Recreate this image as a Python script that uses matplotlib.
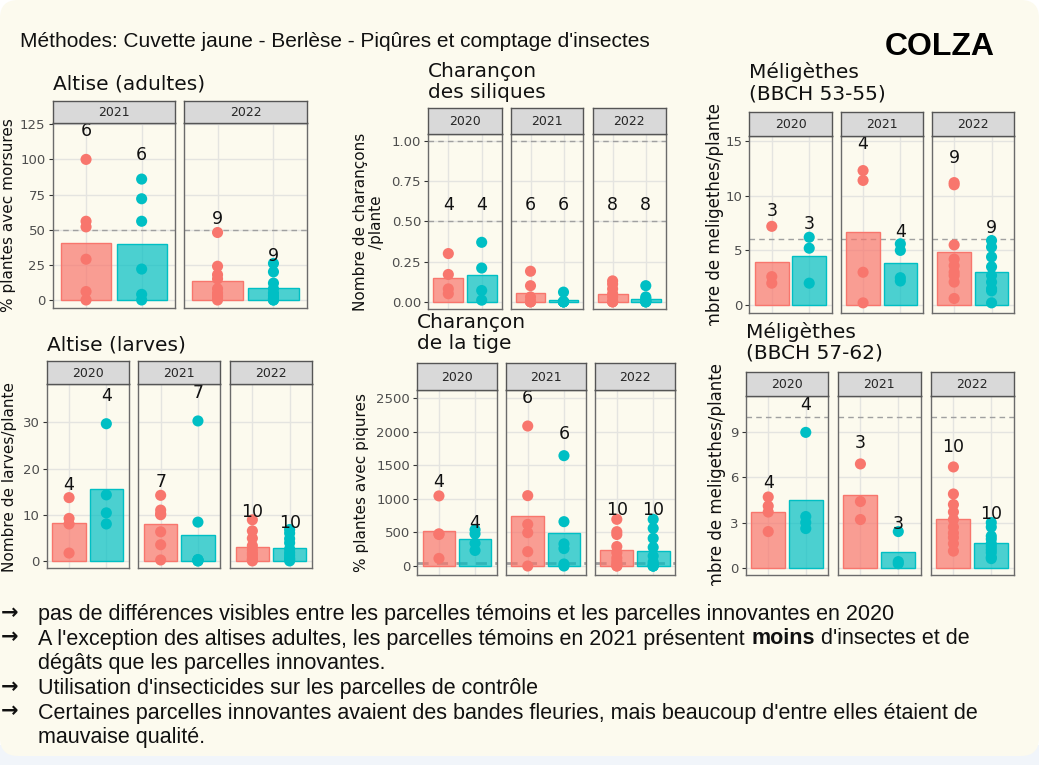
import numpy as np
import matplotlib
matplotlib.use("Agg")
import matplotlib.pyplot as plt
from matplotlib.patches import FancyBboxPatch, Rectangle
from matplotlib.colors import to_rgba
from matplotlib.transforms import Bbox

W, H = 1039, 765

# ---------------- data ----------------
groups = ["Témoin", "Innovant"]
group_colors = ["#F8766D", "#00BFC4"]

altise_adultes_years = ["2021", "2022"]
altise_adultes_temoin = [[100, 56, 52, 29, 6, 0], [48, 24, 18, 15, 8, 5, 3, 2, 0]]
altise_adultes_innov = [[86, 72, 56, 22, 4, 0], [26, 20, 12, 8, 5, 3, 1, 0, 0]]
altise_adultes_ticks = [0, 25, 50, 75, 100, 125]
altise_adultes_seuils = [50]

siliques_years = ["2020", "2021", "2022"]
siliques_temoin = [[0.30, 0.17, 0.08, 0.05], [0.19, 0.10, 0.03, 0, 0, 0],
                   [0.13, 0.11, 0.08, 0.05, 0.03, 0, 0, 0]]
siliques_innov = [[0.37, 0.21, 0.07, 0.01], [0.06, 0, 0, 0, 0, 0],
                  [0.10, 0.03, 0.02, 0.01, 0, 0, 0, 0]]
siliques_ticks = [0, 0.25, 0.5, 0.75, 1.0]
siliques_seuils = [0.5, 1.0]
siliques_label_y = 0.6

meli1_years = ["2020", "2021", "2022"]
meli1_temoin = [[7.2, 2.6, 2.0], [12.3, 11.4, 3.0, 0.2],
                [11.2, 11.0, 5.5, 4.2, 3.6, 3.0, 2.7, 2.1, 0.6]]
meli1_innov = [[6.2, 5.2, 2.0], [5.6, 5.0, 2.5, 2.2],
               [5.9, 5.3, 4.4, 3.5, 2.7, 2.1, 1.5, 1.3, 0.2]]
meli1_ticks = [0, 5, 10, 15]
meli1_seuils = [6]

larves_years = ["2020", "2021", "2022"]
larves_temoin = [[13.7, 9.2, 8.0, 1.7], [14.2, 11.0, 10.2, 10.0, 6.3, 3.5, 0.2],
                 [8.9, 6.5, 4.9, 3.3, 2.4, 1.7, 1.2, 0.5, 0.2, 0]]
larves_innov = [[29.7, 14.3, 10.4, 8.0], [30.3, 8.4, 0.3, 0.2, 0.1, 0, 0],
                [6.8, 6.0, 4.8, 3.9, 2.6, 1.8, 1.2, 0.6, 0.3, 0]]
larves_ticks = [0, 10, 20, 30]
larves_seuils = []

tige_years = ["2020", "2021", "2022"]
tige_temoin = [[1045, 480, 470, 113], [2087, 1049, 621, 497, 214, 0],
               [696, 512, 470, 290, 200, 120, 70, 30, 2, 0]]
tige_innov = [[540, 480, 340, 232], [1645, 661, 330, 260, 30, 0],
              [696, 562, 413, 278, 150, 60, 30, 1, 0, 0]]
tige_ticks = [0, 500, 1000, 1500, 2000, 2500]
tige_seuils = [40]

meli2_years = ["2020", "2021", "2022"]
meli2_temoin = [[4.7, 4.1, 3.7, 2.4], [6.9, 4.4, 3.2],
                [6.7, 4.9, 4.2, 3.7, 3.2, 2.7, 2.3, 2.0, 1.6, 1.1]]
meli2_innov = [[9.0, 3.4, 3.0, 2.6], [2.4, 0.4, 0.26],
               [3.0, 2.7, 2.1, 1.9, 1.6, 1.4, 1.2, 1.0, 0.7, 0.6]]
meli2_ticks = [0, 3, 6, 9]
meli2_seuils = [10]

header = "Méthodes: Cuvette jaune - Berlèse - Piqûres et comptage d'insectes"
culture = "COLZA"

# ---------------- figure ----------------
CREAM = "#fcfaee"
fig = plt.figure(figsize=(W / 100, H / 100), dpi=100, facecolor="white")
bg = fig.add_axes([0, 0, 1, 1], zorder=-5)
bg.set_xlim(0, W)
bg.set_ylim(H, 0)
bg.axis("off")
bg.add_patch(Rectangle((0, 745), W, 30, color="#f1f5fa", lw=0))
bg.add_patch(FancyBboxPatch((0, 0), W, 756, boxstyle="round,pad=0,rounding_size=18",
                            facecolor=CREAM, edgecolor="none"))

SANS = ["DejaVu Sans"]
ARIAL = ["Liberation Sans", "DejaVu Sans"]


def px_axes(x0, x1, ytop, ybot, **kw):
    return fig.add_axes([x0 / W, 1 - ybot / H, (x1 - x0) / W, (ybot - ytop) / H], **kw)


def draw_panel(title, title_xy, ylabel, ylabel_xy, years, temoin, innov, ticks, ylim,
               facets_x, strip_y, panel_y, seuils, label_fixed=None, fmt="{:g}",
               seuil_lw=1.0, ylabel_clip=None, ylabel_va="center", ylabel_fs=11):
    for i, yr in enumerate(years):
        x0, x1 = facets_x[i]
        ax = px_axes(x0, x1, panel_y[0], panel_y[1])
        ax.set_facecolor("none")
        ax.set_xlim(0.4, 2.6)
        ax.set_ylim(*ylim)
        ax.set_xticks([1, 2])
        ax.set_yticks(ticks)
        ax.grid(True, color="#e4e4e0", lw=1.0)
        ax.set_axisbelow(True)
        ax.tick_params(axis="x", length=0, labelbottom=False)
        if i == 0:
            ax.set_yticklabels([fmt.format(t) for t in ticks])
            ax.tick_params(axis="y", length=3.2, width=0.8, color="#333333",
                           labelsize=9.5, labelcolor="#4d4d4d", pad=2)
        else:
            ax.tick_params(axis="y", length=0, labelleft=False)
        for sp in ax.spines.values():
            sp.set_color("#6b6b6b")
            sp.set_linewidth(1.0)
        for s in seuils:
            ax.axhline(s, color="#a0a0a0", lw=seuil_lw, ls=(0, (4, 3)), zorder=1.5)
        for gi, vals in enumerate([temoin[i], innov[i]]):
            c = group_colors[gi]
            xpos = gi + 1
            ax.bar([xpos], [np.mean(vals)], width=0.9, color=to_rgba(c, 0.7),
                   edgecolor=c, lw=1.0, zorder=2)
            ax.scatter([xpos] * len(vals), vals, s=64, color=c, edgecolors="none",
                       zorder=3, clip_on=False)
            ly = label_fixed if label_fixed is not None else max(vals) * 1.2
            ax.text(xpos, ly, str(len(vals)), ha="center", va="center", fontsize=12.5,
                    color="#111111", zorder=4, clip_on=False, family=SANS)
        sax = px_axes(x0, x1, strip_y[0], strip_y[1])
        sax.set_facecolor("#d9d9d9")
        sax.set_xticks([])
        sax.set_yticks([])
        for sp in sax.spines.values():
            sp.set_color("#555555")
            sp.set_linewidth(1.0)
        sax.text(0.5, 0.47, yr, ha="center", va="center", fontsize=9,
                 color="#262626", transform=sax.transAxes, family=SANS)
    bg.text(title_xy[0], title_xy[1], title, ha="left", va="top", fontsize=14.5,
            color="#111111", family=SANS, linespacing=1.15)
    t = bg.text(ylabel_xy[0], ylabel_xy[1], ylabel, rotation=90, ha="center",
                va=ylabel_va, fontsize=ylabel_fs, color="#111111", family=SANS,
                multialignment="center", linespacing=1.05)
    if ylabel_clip is not None:
        cx0, cy0, cx1, cy1 = ylabel_clip
        t.set_clip_box(Bbox.from_extents(cx0, H - cy1, cx1, H - cy0))
        t.set_clip_on(True)


# Altise (adultes)
draw_panel("Altise (adultes)", (53, 74), "% plantes avec morsures", (9, 215.5),
           altise_adultes_years, altise_adultes_temoin, altise_adultes_innov,
           altise_adultes_ticks, (-5.7, 126.1),
           [(52.7, 175), (184, 307)], (100.7, 122.7), (122.7, 308),
           altise_adultes_seuils)

# Charançon des siliques
draw_panel("Charançon\ndes siliques", (428.3, 61.5), "Nombre de charançons\n/plante",
           (368.5, 222), siliques_years, siliques_temoin, siliques_innov,
           siliques_ticks, (-0.045, 1.044),
           [(428.3, 501.7), (510.7, 583.3), (592.7, 665.7)], (108.3, 134), (134, 309),
           siliques_seuils, label_fixed=siliques_label_y, fmt="{:.2f}")

# Méligèthes (BBCH 53-55)
draw_panel("Méligèthes\n(BBCH 53-55)", (749.3, 62), "Nombre de meligethes/plante",
           (715, 103), meli1_years, meli1_temoin, meli1_innov,
           meli1_ticks, (-0.70, 15.49),
           [(749.3, 831.7), (840.7, 922.7), (931.7, 1014)], (111.7, 135.7), (135.7, 312.7),
           meli1_seuils, ylabel_clip=(690, 95, 740, 326), ylabel_va="top",
           ylabel_fs=12)

# Altise (larves)
draw_panel("Altise (larves)", (46.7, 335), "Nombre de larves/plante", (10, 477),
           larves_years, larves_temoin, larves_innov, larves_ticks, (-1.6, 38.3),
           [(46.7, 128.7), (138.3, 220.3), (230, 312)], (361, 384), (384, 568.3),
           larves_seuils)

# Charançon de la tige
draw_panel("Charançon\nde la tige", (417.3, 313), "% plantes avec piqures", (361.7, 482),
           tige_years, tige_temoin, tige_innov, tige_ticks, (-134, 2624),
           [(417.3, 496.7), (506, 585.7), (595, 675)], (363.3, 390), (390, 575),
           tige_seuils, seuil_lw=2.0)

# Méligèthes (BBCH 57-62)
draw_panel("Méligèthes\n(BBCH 57-62)", (745.7, 321.7), "Nombre de meligethes/plante",
           (716.7, 363), meli2_years, meli2_temoin, meli2_innov, meli2_ticks, (-0.49, 11.42),
           [(745.7, 828.3), (837.7, 921), (930.7, 1014)], (371.7, 396), (396, 575),
           meli2_seuils, ylabel_clip=(690, 355, 740, 586), ylabel_va="top",
           ylabel_fs=12)

# header
bg.text(20.5, 47.3, header, ha="left", va="baseline", fontsize=15, color="#111111",
        family=ARIAL)
bg.text(995, 55, culture, ha="right", va="baseline", fontsize=23, fontweight="bold",
        color="#000000", family=ARIAL)

# bottom comments
FS = 15.5
space_pt = 0.278 * FS
baselines = [620, 644.5, 669, 694, 718.5, 743]
bullets = [True, True, False, True, True, False]
line_texts = [
    ["pas de différences visibles entre les parcelles témoins et les parcelles innovantes en 2020"],
    ["A l'exception des altises adultes, les parcelles témoins en 2021 présentent",
     "moins", "d'insectes et de"],
    ["dégâts que les parcelles innovantes."],
    ["Utilisation d'insecticides sur les parcelles de contrôle"],
    ["Certaines parcelles innovantes avaient des bandes fleuries, mais beaucoup d'entre elles étaient de"],
    ["mauvaise qualité."],
]
bold_words = {"moins"}
for yb, bul, parts in zip(baselines, bullets, line_texts):
    if bul:
        bg.text(1, yb - 1, "→", ha="left", va="baseline", fontsize=15, color="#111111",
                family=SANS, fontweight="bold")
    prev = bg.text(38.5, yb, parts[0], ha="left", va="baseline", fontsize=FS,
                   color="#111111", family=ARIAL)
    for p in parts[1:]:
        prev = bg.annotate(p, xy=(1, 0), xycoords=prev, xytext=(space_pt, 0),
                           textcoords="offset points", ha="left", va="bottom",
                           fontsize=FS, color="#111111", family=ARIAL,
                           fontweight="bold" if p in bold_words else "normal")

fig.savefig("out.png", dpi=100, facecolor="white")
